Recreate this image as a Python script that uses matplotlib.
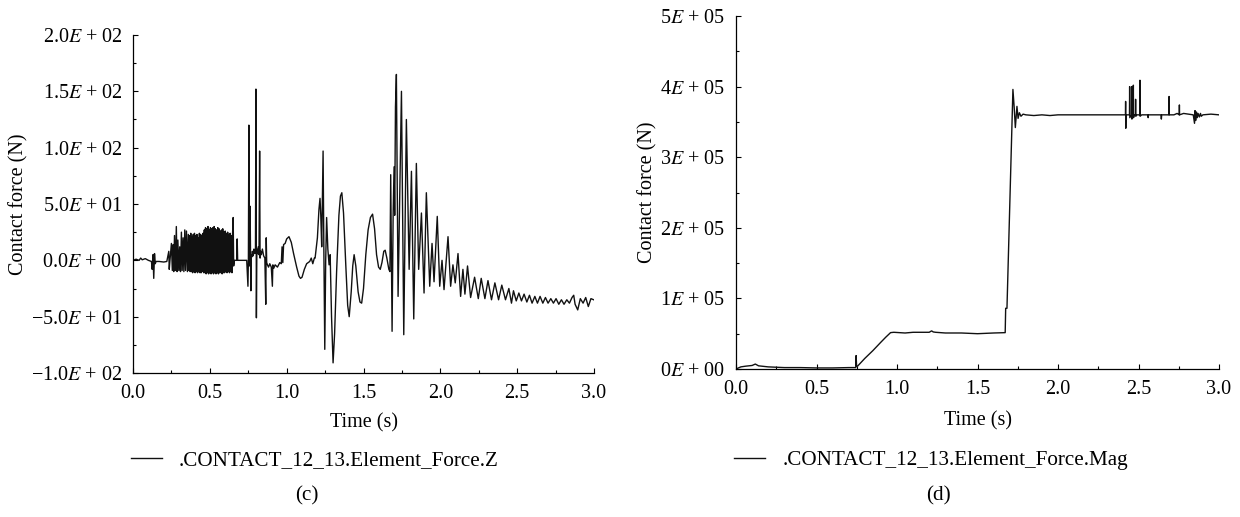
import numpy as np
import matplotlib
matplotlib.use("Agg")
import matplotlib.pyplot as plt
from matplotlib.ticker import MultipleLocator, FixedLocator, FixedFormatter

plt.rcParams["font.family"] = ["Liberation Serif", "DejaVu Serif"]
plt.rcParams["mathtext.fontset"] = "stix"

# ── Panel (c): contact force Z (N) ────────────────────────────────────────────
z_t_start = [0.00, 0.02, 0.04, 0.05, 0.06, 0.08, 0.10, 0.12, 0.125, 0.13, 0.135, 0.14,
             0.145, 0.15, 0.17, 0.20, 0.22, 0.233, 0.236, 0.240, 0.250, 0.256, 0.262,
             0.265, 0.270, 0.276, 0.282, 0.287, 0.292, 0.298, 0.304, 0.309, 0.315,
             0.320, 0.326, 0.331, 0.337, 0.342, 0.348, 0.354]
z_f_start = [0, 1, 0, 2, 0.5, 1.5, 0, -1, -8, 5, -16, 6, -3, -1, -1, -1.5, -1, 8, -8, -1,
             15, -9, 14, -10, 22, -9, 30, -10, 18, -9, 12, -10, 25, -9, 20, -10, 27, -9,
             26, -10]

# dense chatter block 0.360 – 0.648 s (alternating peaks / troughs)
z_burst_hi = [23, 22, 24, 21, 23, 24, 22, 23, 20, 24, 23, 22, 24, 27, 29, 28, 30, 27, 29,
              28, 29, 30, 28, 27, 29, 28, 26, 27, 28, 25, 26, 24, 25, 23, 24, 22, 24]
z_burst_lo = [-9, -10, -10, -11, -10, -11, -10, -11, -10, -11, -11, -10, -11, -11, -12,
              -11, -12, -11, -12, -11, -12, -11, -12, -11, -12, -11, -11, -12, -11, -11,
              -10, -11, -10, -11, -10, -11]
z_burst_span = (0.360, 0.648)

z_t_mid = [0.652, 0.655, 0.660, 0.675, 0.678, 0.681, 0.700, 0.740, 0.748, 0.751, 0.754,
           0.757, 0.762, 0.767, 0.770, 0.773, 0.777, 0.782, 0.787, 0.792, 0.797, 0.800,
           0.803, 0.806, 0.810, 0.815, 0.820, 0.824, 0.827, 0.830, 0.835, 0.842, 0.850,
           0.858, 0.864, 0.867, 0.870, 0.875, 0.882, 0.890, 0.900, 0.907, 0.910, 0.916,
           0.925, 0.940, 0.955, 0.965, 0.970, 0.975, 0.980, 0.990, 1.000, 1.015, 1.030,
           1.045, 1.065, 1.080, 1.090, 1.100, 1.115, 1.130, 1.150, 1.160, 1.170, 1.180]
z_f_mid = [38, -5, 0, 0, 19, 0, 0, 0, -23, 2, 120, -5, 48, -27, 5, 3, 8, 4, 10, 6, 9, 152,
           -51, 10, 6, 12, 5, 97, 2, 8, 5, 10, 4, 2, -39, 20, -2, -4, -6, -3, -6, -23, -4,
           -7, -4, -6, -2, -3, 12, -2, 14, 15, 19, 21, 16, 6, -6, -14, -16, -15, -8, -3,
           -1, 2, -3, 2]

z_t_wave = [1.185, 1.200, 1.210, 1.217, 1.222, 1.228, 1.233, 1.237, 1.242, 1.248, 1.254,
            1.260, 1.268, 1.276, 1.283, 1.292, 1.302, 1.312, 1.325, 1.340, 1.350, 1.359,
            1.370, 1.385, 1.397, 1.407, 1.420, 1.430, 1.439, 1.450, 1.465, 1.477, 1.488,
            1.500, 1.515, 1.530, 1.545, 1.559, 1.572, 1.585, 1.598, 1.609, 1.620, 1.632,
            1.641, 1.652, 1.665, 1.672]
z_f_wave = [2, 20, 45, 55, 40, 12, 60, 97, 10, -79, 0, 38, 10, -4, 5, -50, -91, -65, -10,
            40, 57, 60, 42, -5, -40, -50, -28, -5, 5, -5, -28, -37, -38, -25, 5, 27, 38,
            41, 28, 5, -6, -8, -2, 8, 9, 2, -8, -10]

z_t_tail = [1.677, 1.686, 1.693, 1.699, 1.703, 1.708, 1.714, 1.725, 1.736, 1.747, 1.762,
            1.779, 1.797, 1.812, 1.827, 1.844, 1.859, 1.877, 1.894, 1.909, 1.931, 1.946,
            1.959, 1.980, 1.996, 2.011, 2.024, 2.050, 2.067, 2.082, 2.097, 2.115, 2.132,
            2.147, 2.160, 2.177, 2.197, 2.223, 2.247, 2.266, 2.290, 2.310, 2.333, 2.355,
            2.379, 2.400, 2.424, 2.446, 2.463, 2.476, 2.494, 2.511, 2.528, 2.545, 2.563,
            2.580, 2.597, 2.615, 2.632, 2.649, 2.667, 2.684, 2.701, 2.719, 2.736, 2.753,
            2.771, 2.788, 2.805, 2.823, 2.840, 2.857, 2.868, 2.877, 2.894, 2.911, 2.929,
            2.946, 2.963, 2.980, 2.998]
z_f_tail = [76, -63, 42, 83, 40, 136, 165, -32, 60, 150, -66, 125, -8, 79, -52, 86, -8, 42,
            -29, 60, -23, 15, -19, 39, -23, 0, -26, 21, -23, -4, -20, 6, -32, -8, -30, -5,
            -33, -15, -34, -16, -34, -18, -35, -20, -35, -22, -35, -25, -38, -27, -36, -29,
            -36, -30, -37, -31, -38, -32, -38, -32, -38, -33, -38, -34, -38, -34, -39, -35,
            -39, -35, -38, -33, -31, -39, -44, -34, -38, -33, -41, -34, -35]

z_yticks = [-100, -50, 0, 50, 100, 150, 200]
z_ylabels = ["\u22121.0$E$ + 02", "\u22125.0$E$ + 01", "0.0$E$ + 00", "5.0$E$ + 01",
             "1.0$E$ + 02", "1.5$E$ + 02", "2.0$E$ + 02"]

m_t = [0.000, 0.030, 0.060, 0.100, 0.120, 0.140, 0.200, 0.300, 0.400, 0.500, 0.600,
       0.700, 0.744, 0.746, 0.749, 0.755, 0.800, 0.850, 0.900, 0.930, 0.960, 0.980,
       1.050, 1.100, 1.200, 1.215, 1.225, 1.240, 1.300, 1.400, 1.500, 1.600, 1.672,
       1.675, 1.683, 1.720, 1.728, 1.735, 1.745, 1.752, 1.760, 1.770, 1.783, 1.800,
       1.850, 1.900, 1.950, 2.000, 2.100, 2.200,
       2.300, 2.419, 2.420, 2.421, 2.422, 2.430, 2.444, 2.445, 2.446, 2.457, 2.458,
       2.459, 2.462, 2.467, 2.468, 2.469, 2.475, 2.481, 2.482, 2.483, 2.490, 2.508,
       2.509, 2.510, 2.520, 2.558, 2.560, 2.562, 2.600, 2.640, 2.642, 2.644, 2.689,
       2.690, 2.691, 2.720, 2.740, 2.753, 2.754, 2.755, 2.780, 2.840, 2.848, 2.851,
       2.855, 2.860, 2.865, 2.870, 2.878, 2.885, 2.890, 2.900, 2.950, 3.000]
m_kN = [0, 3, 4, 5, 7, 4.5, 3, 2, 2, 1.5, 1.5, 2, 2, 19, 4, 4, 15, 26, 38, 45, 51.5, 52,
        51, 52, 52, 54, 52.5, 52, 51, 51, 50, 51, 51.5, 86, 86, 396, 370, 342, 372, 355,
        363, 358, 361, 360, 359, 360, 359, 360, 360, 360,
        360, 360, 379, 341, 360, 360, 360, 400, 356, 360, 400, 354, 360, 360, 402, 356,
        360, 360, 382, 358, 360, 360, 409, 358, 360, 360, 356, 360, 360, 360, 354, 360,
        360, 386, 360, 360, 362, 360, 374, 360, 362, 360, 348, 366, 352, 364, 356, 362,
        357, 362, 358, 360, 361, 360]

m_yticks = [0, 1e5, 2e5, 3e5, 4e5, 5e5]
m_ylabels = ["0$E$ + 00", "1$E$ + 05", "2$E$ + 05", "3$E$ + 05", "4$E$ + 05", "5$E$ + 05"]

x_ticks = [0.0, 0.5, 1.0, 1.5, 2.0, 2.5, 3.0]
x_labels = ["0.0", "0.5", "1.0", "1.5", "2.0", "2.5", "3.0"]

FS = 14.5
FS_LEG = 15.2
LINE = "#111111"
W, H = 1240, 517


def build_z_series():
    burst_f = []
    for i, hi in enumerate(z_burst_hi):
        burst_f.append(hi)
        if i < len(z_burst_lo):
            burst_f.append(z_burst_lo[i])
    burst_t = list(np.linspace(z_burst_span[0], z_burst_span[1], len(burst_f)))
    t = z_t_start + burst_t + z_t_mid + z_t_wave + z_t_tail
    f = z_f_start + burst_f + z_f_mid + z_f_wave + z_f_tail
    return np.array(t), np.array(f)


def style_axes(ax, yticks, ylabels, ymin, ymax, yminor):
    for side in ("top", "right"):
        ax.spines[side].set_visible(False)
    for side in ("left", "bottom"):
        ax.spines[side].set_linewidth(0.9)
    ax.set_xlim(0, 3)
    ax.set_ylim(ymin, ymax)
    ax.xaxis.set_major_locator(FixedLocator(x_ticks))
    ax.xaxis.set_major_formatter(FixedFormatter(x_labels))
    ax.xaxis.set_minor_locator(MultipleLocator(0.25))
    ax.yaxis.set_major_locator(FixedLocator(yticks))
    ax.yaxis.set_major_formatter(FixedFormatter(ylabels))
    ax.yaxis.set_minor_locator(MultipleLocator(yminor))
    ax.tick_params(which="major", direction="in", length=3.6, width=0.8, labelsize=FS)
    ax.tick_params(which="minor", direction="in", length=2.2, width=0.8)
    ax.tick_params(axis="x", which="major", pad=8)
    ax.tick_params(axis="y", which="major", pad=7.5)
    ax.set_xlabel("Time (s)", fontsize=FS)
    ax.set_ylabel("Contact force (N)", fontsize=FS)


def add_legend(fig, handle, cx, cy):
    fig.legend(handles=[handle], loc="center", bbox_to_anchor=(cx / W, 1 - cy / H),
               frameon=False, fontsize=FS_LEG, handlelength=1.47, handletextpad=0.8)


fig = plt.figure(figsize=(W / 100, H / 100), dpi=100)

# ── (c) ───────────────────────────────────────────────────────────────────────
ax_c = fig.add_axes([133 / W, 1 - 373 / H, 461 / W, 338 / H])
zt, zf = build_z_series()
line_c, = ax_c.plot(zt, zf, color=LINE, linewidth=1.0,
                    label=".CONTACT_12_13.Element_Force.Z")
style_axes(ax_c, z_yticks, z_ylabels, -100, 200, 25)
ax_c.yaxis.set_label_coords((28 - 133) / 461, 0.5)
ax_c.xaxis.set_label_coords(0.5, (373 - 413) / 338)
add_legend(fig, line_c, 315, 460)
fig.text(307 / W, 1 - 496 / H, "(c)", ha="center", va="center", fontsize=FS_LEG)

# ── (d) ───────────────────────────────────────────────────────────────────────
ax_d = fig.add_axes([736 / W, 1 - 369 / H, 483 / W, 353 / H])
line_d, = ax_d.plot(m_t, np.array(m_kN) * 1e3, color=LINE, linewidth=1.0,
                    label=".CONTACT_12_13.Element_Force.Mag")
style_axes(ax_d, m_yticks, m_ylabels, 0, 5e5, 0.5e5)
ax_d.yaxis.set_label_coords((657 - 736) / 483, 0.5)
ax_d.xaxis.set_label_coords(0.5, (369 - 411) / 353)
add_legend(fig, line_d, 931, 460)
fig.text(938 / W, 1 - 496 / H, "(d)", ha="center", va="center", fontsize=FS_LEG)

fig.savefig("out.png", dpi=100)
plt.close(fig)
